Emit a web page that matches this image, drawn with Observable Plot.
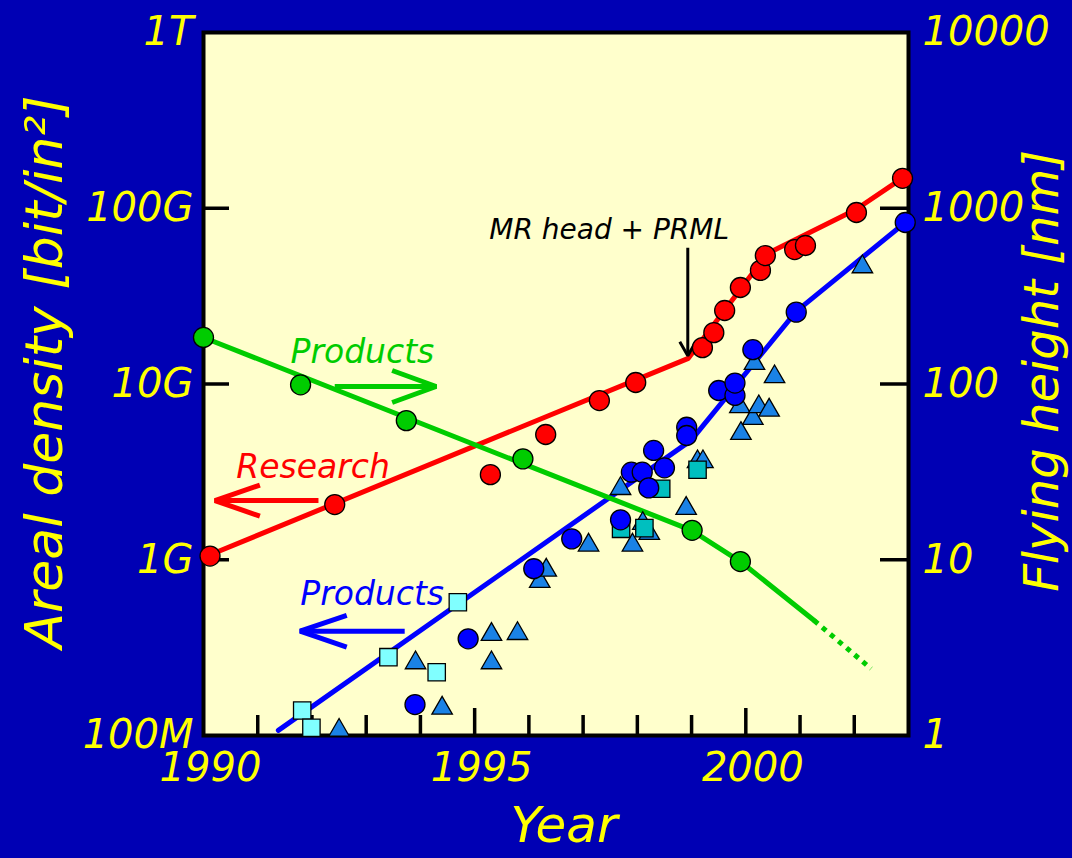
<!DOCTYPE html>
<html>
<head>
<meta charset="utf-8">
<script src="https://cdn.jsdelivr.net/npm/d3@7"></script>
<script src="https://cdn.jsdelivr.net/npm/@observablehq/plot@0.6"></script>
<style>
  html, body { margin: 0; padding: 0; background: #0000b4; }
  #chart svg { display: block; }
</style>
</head>
<body>
<div id="chart"></div>
<script>
// ---------------- data ----------------
// Research demos: areal density (Gbit/in²)
const researchYear = [1990.12, 1992.42, 1995.29, 1996.31, 1997.30, 1997.97, 1999.20, 1999.41, 1999.61, 1999.90, 2000.27, 2000.36, 2000.90, 2001.10, 2002.04, 2002.89];
const researchG    = [1.05, 2.06, 3.05, 5.16, 8.05, 10.2, 16.1, 19.6, 26.2, 35.4, 44.3, 53.8, 58.2, 61.4, 94.6, 148];
const researchTrendYear = [1990, 1998.94, 2000.40, 2002.03, 2002.88];
const researchTrendG    = [1.03, 14.0, 55.3, 98.4, 148];

// Products: areal density (Gbit/in²)
const productCircleYear = [1996.09, 1994.88, 1993.90, 1996.79, 1997.69, 1997.89, 1998.09, 1998.21, 1998.30, 1998.50, 1998.91, 1998.91, 1999.50, 1999.80, 1999.80, 2000.13, 2000.93, 2002.94];
const productCircleG    = [0.889, 0.355, 0.150, 1.315, 1.687, 3.148, 3.148, 2.564, 4.188, 3.334, 5.675, 5.093, 9.183, 8.610, 10.12, 15.67, 25.64, 82.99];
const productTriangleYear = [1992.50, 1993.91, 1994.40, 1995.31, 1995.79, 1995.31, 1996.20, 1996.32, 1997.10, 1997.69, 1997.91, 1998.10, 1998.22, 1998.90, 1999.11, 1999.21, 1999.91, 1999.89, 2000.13, 2000.24, 2000.43, 2000.16, 2000.53, 2002.15];
const productTriangleG    = [0.107, 0.259, 0.143, 0.376, 0.380, 0.259, 0.752, 0.872, 1.211, 2.541, 1.211, 1.607, 1.410, 1.959, 3.608, 3.608, 5.227, 7.418, 6.365, 7.418, 7.096, 13.08, 10.99, 46.4];
const productSquareLightYear = [1991.82, 1991.99, 1993.41, 1994.30, 1994.69];
const productSquareLightG    = [0.1387, 0.1107, 0.279, 0.229, 0.573];
const productSquareTealYear  = [1997.70, 1998.13, 1998.44, 1999.11];
const productSquareTealG     = [1.500, 1.514, 2.535, 3.251];
const productTrendYear = [1991.38, 1998.99, 2000.93, 2002.94];
const productTrendG    = [0.107, 4.78, 25.9, 83.0];

// Products: flying height (nm)
const flyingYear = [1990.0, 1991.79, 1993.74, 1995.89, 1999.01, 1999.90];
const flyingNm   = [184, 98.9, 61.9, 37.5, 14.7, 9.77];
const flyingTrendYear = [1990, 1999.0, 1999.9, 2001.26];
const flyingTrendNm   = [184, 14.7, 9.77, 4.51];
const flyingProjYear  = [2001.26, 2002.31];
const flyingProjNm    = [4.51, 2.40];

// Axis ticks and labels
const yearMajor = [1990, 1995, 2000];
const yearMinor = [1991, 1992, 1993, 1994, 1996, 1997, 1998, 1999, 2001, 2002];
const densityTicks  = [0.1, 1, 10, 100, 1000];
const densityLabels = ["100M", "1G", "10G", "100G", "1T"];
const heightTicks   = [1, 10, 100, 1000, 10000];
const heightLabels  = ["1", "10", "100", "1000", "10000"];

// Annotations
const notes = [
  {text: "Products", x: 1992.93, y: 15.1, color: "#00cc00"},
  {text: "Research", x: 1992.02, y: 3.35, color: "#ff0000"},
  {text: "Products", x: 1993.11, y: 0.634, color: "#0000ff"},
  {text: "MR head + PRML", x: 1997.48, y: 75.2, color: "#000000"}
];
const arrows = [
  {tailX: 1992.42, tailY: 9.68, tipX: 1994.29, tipY: 9.68, color: "#00cc00"},
  {tailX: 1992.12, tailY: 2.17, tipX: 1990.21, tipY: 2.17, color: "#ff0000"},
  {tailX: 1993.71, tailY: 0.392, tipX: 1991.78, tipY: 0.392, color: "#0000ff"},
  {tailX: 1998.93, tailY: 59.6, tipX: 1998.93, tipY: 14.5, color: "#000000"}
];

// ---------------- layout ----------------
const W = 1072, H = 858;
const M = {left: 203, right: 164, top: 32, bottom: 123};
const X0 = 1990, X1 = 2003, Y0 = 0.1, Y1 = 1000;
const pxYear = (W - M.left - M.right) / (X1 - X0);
const pxDecade = (H - M.top - M.bottom) / Math.log10(Y1 / Y0);
const toPx = (x, y) => [M.left + (x - X0) * pxYear, M.top + Math.log10(Y1 / y) * pxDecade];
const fromPx = (px, py) => [X0 + (px - M.left) / pxYear, Y1 / Math.pow(10, (py - M.top) / pxDecade)];
const shiftY = (y, px) => y / Math.pow(10, px / pxDecade);   // px > 0 moves down
const shiftX = (x, px) => x + px / pxYear;

const FONT = "DejaVu Sans";
const YEL = "#ffff00";

function arrowParts(a, head, spread) {
  const [tx, ty] = toPx(a.tipX, a.tipY), [sx, sy] = toPx(a.tailX, a.tailY);
  const L = Math.hypot(tx - sx, ty - sy), ux = (tx - sx) / L, uy = (ty - sy) / L;
  const w1 = fromPx(tx - ux * head - uy * spread, ty - uy * head + ux * spread);
  const w2 = fromPx(tx - ux * head + uy * spread, ty - uy * head - ux * spread);
  return {shaft: [[a.tailX, a.tailY], [a.tipX, a.tipY]], head: [w1, [a.tipX, a.tipY], w2]};
}
const arrowStyle = [[44, 16, 5], [45, 15.5, 5], [46.7, 15.8, 5], [14, 8, 3]];

const zip = (xs, ys) => xs.map((x, i) => [x, ys[i]]);
const px = d => d[0], py = d => d[1];
const nm = v => v / 10;  // flying height (nm) on the density scale (1 G ↔ 10 nm)

const marks = [];
marks.push(Plot.frame({fill: "#ffffcc"}));

// trend lines
marks.push(Plot.line(zip(researchTrendYear, researchTrendG), {x: px, y: py, stroke: "#ff0000", strokeWidth: 5}));
marks.push(Plot.line(zip(productTrendYear, productTrendG), {x: px, y: py, stroke: "#0000ff", strokeWidth: 5}));
marks.push(Plot.line(zip(flyingTrendYear, flyingTrendNm.map(nm)), {x: px, y: py, stroke: "#00cc00", strokeWidth: 5}));
marks.push(Plot.line(zip(flyingProjYear, flyingProjNm.map(nm)), {x: px, y: py, stroke: "#00cc00", strokeWidth: 5, strokeDasharray: "5,5.6", strokeLinecap: "butt"}));

// arrows
arrows.forEach((a, i) => {
  const [h, s, w] = arrowStyle[i];
  const p = arrowParts(a, h, s);
  marks.push(Plot.line(p.shaft, {x: px, y: py, stroke: a.color, strokeWidth: w, strokeLinecap: "butt"}));
  marks.push(Plot.line(p.head, {x: px, y: py, stroke: a.color, strokeWidth: w, strokeLinejoin: "miter", strokeLinecap: "butt"}));
});

// frame and ticks
marks.push(Plot.frame({stroke: "#000", strokeWidth: 4}));
marks.push(Plot.ruleY(densityTicks.slice(1, 4), {y: d => d, x1: X0, x2: shiftX(X0, 26), stroke: "#000", strokeWidth: 3.5}));
marks.push(Plot.ruleY(heightTicks.slice(1, 4).map(nm), {y: d => d, x1: shiftX(X1, -28), x2: X1, stroke: "#000", strokeWidth: 3.5}));
marks.push(Plot.ruleX(yearMinor, {x: d => d, y1: Y0, y2: shiftY(Y0, -20), stroke: "#000", strokeWidth: 3.5}));
marks.push(Plot.ruleX(yearMajor.slice(1), {x: d => d, y1: Y0, y2: shiftY(Y0, -27), stroke: "#000", strokeWidth: 3.5}));

// symbols
const dotStyle = {stroke: "#000", strokeWidth: 1.3};
marks.push(Plot.dot(zip(productTriangleYear, productTriangleG), {x: px, y: py, symbol: "triangle", r: 7.6, fill: "#1a82e6", ...dotStyle}));
marks.push(Plot.dot(zip(productSquareLightYear, productSquareLightG), {x: px, y: py, symbol: "square", r: 9.8, fill: "#80ffff", ...dotStyle}));
marks.push(Plot.dot(zip(productSquareTealYear, productSquareTealG), {x: px, y: py, symbol: "square", r: 9.8, fill: "#00bfbf", ...dotStyle}));
marks.push(Plot.dot(zip(productCircleYear, productCircleG), {x: px, y: py, r: 10, fill: "#0000ff", ...dotStyle}));
marks.push(Plot.dot(zip(researchYear, researchG), {x: px, y: py, r: 10, fill: "#ff0000", ...dotStyle}));
marks.push(Plot.dot(zip(flyingYear, flyingNm.map(nm)), {x: px, y: py, r: 10, fill: "#00cc00", ...dotStyle}));

// annotation texts
notes.forEach((n, i) => {
  marks.push(Plot.text([n], {x: "x", y: "y", text: "text", fill: n.color, fontSize: i === 3 ? 28 : 33,
    fontFamily: FONT, fontStyle: "italic", textAnchor: "middle", lineAnchor: "middle"}));
});

// tick labels
const labelStyle = {fill: YEL, fontFamily: FONT, fontStyle: "italic", fontSize: 40};
marks.push(Plot.text(densityTicks, {y: d => d, text: (d, i) => densityLabels[i], frameAnchor: "left", textAnchor: "end", dx: -10, ...labelStyle}));
marks.push(Plot.text(heightTicks, {y: d => nm(d), text: (d, i) => heightLabels[i], frameAnchor: "right", textAnchor: "start", dx: 14, ...labelStyle}));
marks.push(Plot.text(yearMajor, {x: d => d, text: d => String(d), frameAnchor: "bottom", lineAnchor: "top", dy: 17, dx: 7, ...labelStyle}));

// axis titles
marks.push(Plot.text(["Year"], {text: d => d, frameAnchor: "bottom", lineAnchor: "top", dy: 71, dx: 8, fill: YEL, fontFamily: FONT, fontStyle: "italic", fontSize: 50}));
marks.push(Plot.text(["Areal density [bit/in²]"], {text: d => d, frameAnchor: "left", rotate: -90, lineAnchor: "middle", textAnchor: "middle", dx: -158, dy: -12, fill: YEL, fontFamily: FONT, fontStyle: "italic", fontSize: 52}));
marks.push(Plot.text(["Flying height [nm]"], {text: d => d, frameAnchor: "right", rotate: -90, lineAnchor: "middle", textAnchor: "middle", dx: 134, dy: -13, fill: YEL, fontFamily: FONT, fontStyle: "italic", fontSize: 48}));

const chart = Plot.plot({
  width: W, height: H,
  marginLeft: M.left, marginRight: M.right, marginTop: M.top, marginBottom: M.bottom,
  x: {domain: [X0, X1], axis: null},
  y: {type: "log", domain: [Y0, Y1], axis: null},
  style: {background: "transparent", overflow: "visible", fontFamily: FONT},
  marks
});
document.getElementById("chart").appendChild(chart);
</script>
</body>
</html>
